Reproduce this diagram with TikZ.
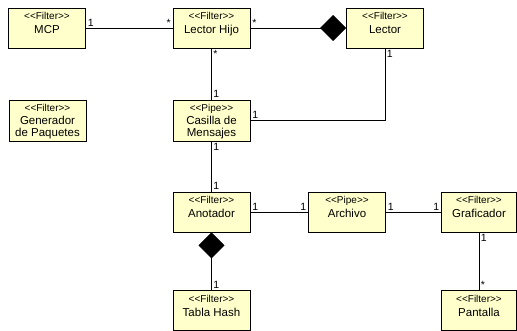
\documentclass[tikz,border=0pt]{standalone}
\usepackage{fontspec}
\setmainfont{Liberation Sans}
\usetikzlibrary{arrows.meta}
\definecolor{umlfill}{RGB}{255,255,204}

\begin{document}
\begin{tikzpicture}[x=1pt, y=-1pt,
  umlbox/.style={draw, fill=umlfill, line width=0.7pt, minimum width=77pt,
    minimum height=40pt, align=center, inner sep=1pt,
    text height=12pt, text depth=0pt,
    font=\fontsize{11.5}{12.4}\selectfont},
  twolines/.style={minimum height=41pt, text height=32pt, text depth=0pt},
  stereo/.style={label={[font=\fontsize{10}{12}\selectfont, anchor=base,
    yshift=-12pt, inner sep=0pt]north:{<{}<#1>{}>}}},
  mult/.style={font=\fontsize{10.5}{12}\selectfont, inner sep=1.5pt},
  assoc/.style={line width=0.8pt},
  whole/.tip={Diamond[length=26pt, width=26pt]}
]
\useasboundingbox (0,0) rectangle (517,331);

% Draw the classes
\node[umlbox, stereo=Filter] (mcp) at (47,28) {MCP};
\node[umlbox, stereo=Filter] (hijo) at (211.5,28) {Lector Hijo};
\node[umlbox, stereo=Filter] (lector) at (385,28) {Lector};
\node[umlbox, twolines, stereo=Filter] (generador) at (47.5,120.5) {Generador\\de Paquetes};
\node[umlbox, twolines, stereo=Pipe] (casilla) at (211.5,120.5) {Casilla de\\Mensajes};
\node[umlbox, stereo=Filter] (anotador) at (211.5,212) {Anotador};
\node[umlbox, stereo=Pipe] (archivo) at (347,212) {Archivo};
\node[umlbox, stereo=Filter, minimum width=75pt] (graficador) at (479,212) {Graficador};
\node[umlbox, stereo=Filter] (tabla) at (211.5,310.5) {Tabla Hash};
\node[umlbox, stereo=Filter, minimum width=75pt] (pantalla) at (479,310.5) {Pantalla};

% Draw the associations
\draw[assoc] (mcp) -- node[mult, pos=0, above right] {1} node[mult, pos=1, above left] {*} (hijo);
\draw[assoc, -whole] (hijo) -- node[mult, pos=0, above right] {*} (lector);
\draw[assoc] (hijo) -- node[mult, pos=0, below right] {*} node[mult, pos=1, above right] {1} (casilla);
\draw[assoc] (lector.south) |- node[mult, pos=0, below right] {1} node[mult, pos=1, above right] {1} (casilla.east);
\draw[assoc] (casilla) -- node[mult, pos=0, below right] {1} node[mult, pos=1, above right] {1} (anotador);
\draw[assoc] (anotador) -- node[mult, pos=0, above right] {1} node[mult, pos=1, above left] {1} (archivo);
\draw[assoc] (archivo) -- node[mult, pos=0, above right] {1} node[mult, pos=1, above left] {1} (graficador);
\draw[assoc, whole-] (anotador) -- node[mult, pos=1, above right] {1} (tabla);
\draw[assoc] (graficador) -- node[mult, pos=0, below right] {1} node[mult, pos=1, above right] {*} (pantalla);
\end{tikzpicture}
\end{document}
